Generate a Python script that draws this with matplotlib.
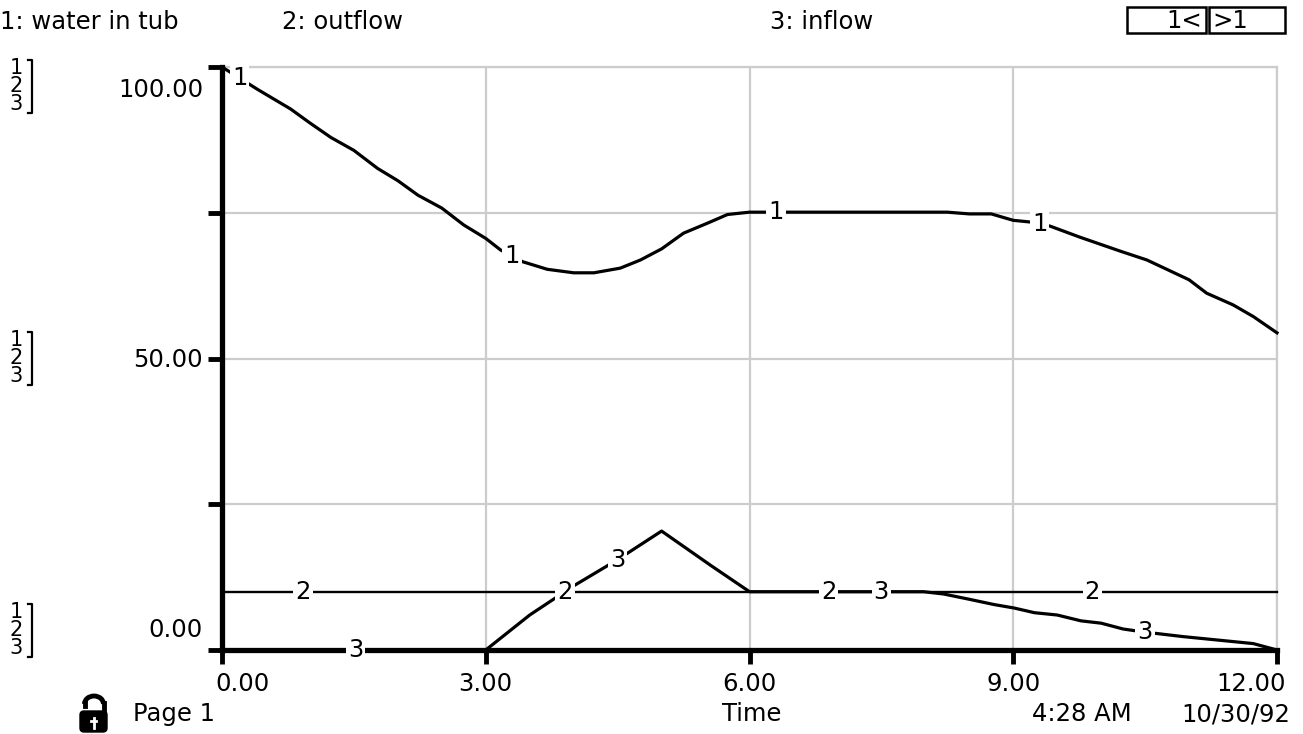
import numpy as np
import matplotlib.pyplot as plt
from matplotlib.patches import Rectangle, FancyBboxPatch, Arc

# ---- data ----
t_water = [0, 0.4, 0.78, 1.0, 1.24, 1.5, 1.77, 2.0, 2.23, 2.5, 2.75, 3.0, 3.17,
           3.42, 3.7, 4.0, 4.23, 4.53, 4.76, 5.0, 5.25, 5.52, 5.75, 6.0, 8.25,
           8.5, 8.75, 9.0, 9.2, 9.42, 9.76, 10.22, 10.52, 11.0, 11.2, 11.5,
           11.73, 12.0]
water = [100, 96.2, 92.8, 90.4, 87.9, 85.7, 82.6, 80.5, 78.0, 75.8, 72.9, 70.6,
         68.6, 66.6, 65.3, 64.7, 64.7, 65.5, 66.9, 68.8, 71.5, 73.2, 74.7, 75.1,
         75.1, 74.8, 74.8, 73.7, 73.4, 72.7, 70.8, 68.4, 66.9, 63.5, 61.2, 59.2,
         57.2, 54.4]

t_outflow = [0, 12]
outflow = [10, 10]

t_inflow = [0, 3, 3.5, 4.0, 4.5, 5.0, 5.56, 6.0, 7.98, 8.21, 8.5, 8.78, 9.01,
            9.24, 9.5, 9.77, 10.0, 10.25, 10.48, 10.93, 11.73, 12.0]
inflow = [0, 0, 6, 11, 15.5, 20.4, 14.5, 10, 10, 9.6, 8.7, 7.8, 7.2, 6.4, 6.0,
          5.0, 4.6, 3.6, 3.1, 2.3, 1.1, 0]

x_ticks = [0, 3, 6, 9, 12]
x_ticklabels = ['0.00', '3.00', '6.00', '9.00', '12.00']
y_ticks = [0, 25, 50, 75, 100]
legend_names = ['1: water in tub', '2: outflow', '3: inflow']

W, H = 1303, 734
FS = 17.5
fig = plt.figure(figsize=(W / 100, H / 100), dpi=100)
fig.patch.set_facecolor('white')

L, R, T, B = 222, 1277, 67, 650
ax = fig.add_axes([L / W, (H - B) / H, (R - L) / W, (B - T) / H])
ax.set_xlim(0, 12)
ax.set_ylim(0, 100)
ax.set_xticks(x_ticks)
ax.set_yticks(y_ticks)
ax.set_xticklabels([])
ax.set_yticklabels([])
ax.grid(True, color='#cccccc', lw=1.6)
ax.set_axisbelow(True)
for s in ['top', 'right']:
    ax.spines[s].set_visible(False)
for s in ['left', 'bottom']:
    ax.spines[s].set_linewidth(3.8)
    ax.spines[s].set_zorder(4)
ax.tick_params(direction='out', length=10, width=3.5, color='black')
# top and right grid edges
ax.axhline(100, color='#cccccc', lw=1.6, zorder=0.5, clip_on=False)
ax.axvline(12, color='#cccccc', lw=1.6, zorder=0.5, clip_on=False)

ax.plot(t_water, water, color='black', lw=2.3, clip_on=False, zorder=3)
ax.plot(t_outflow, outflow, color='black', lw=1.7, clip_on=False, zorder=3)
ax.plot(t_inflow, inflow, color='black', lw=2.3, clip_on=False, zorder=3)

# series number labels placed along the lines
series = [('1', t_water, water, [0.2, 3.3, 6.3, 9.3]),
          ('2', t_outflow, outflow, [0.92, 3.9, 6.9, 9.9]),
          ('3', t_inflow, inflow, [1.52, 4.5, 7.5, 10.5])]
for lab, tx, vy, xs in series:
    for xp in xs:
        ax.text(xp, np.interp(xp, tx, vy), lab, fontsize=FS, ha='center',
                va='center', zorder=5, clip_on=False,
                bbox=dict(boxstyle='square,pad=0.08', fc='white', ec='none'))

# ---- overlay in pixel coordinates for the surrounding text ----
ov = fig.add_axes([0, 0, 1, 1], facecolor='none')
ov.set_xlim(0, W)
ov.set_ylim(H, 0)
ov.axis('off')

for xpos, name in zip([0, 282, 770], legend_names):
    ov.text(xpos, 22, name, fontsize=FS, ha='left', va='center')

ov.add_patch(Rectangle((1127, 7), 79, 26, fill=False, lw=1.8, ec='black'))
ov.add_patch(Rectangle((1209, 7), 76, 26, fill=False, lw=1.8, ec='black'))
ov.text(1202, 21, '1<', fontsize=FS, ha='right', va='center')
ov.text(1212, 21, '>1', fontsize=FS, ha='left', va='center')

# y tick labels
ov.text(203, 90, '100.00', fontsize=FS, ha='right', va='center')
ov.text(203, 360, '50.00', fontsize=FS, ha='right', va='center')
ov.text(203, 630, '0.00', fontsize=FS, ha='right', va='center')

# scale brackets on the far left
for cy in [86, 358, 630]:
    ov.text(16, cy, '1\n2\n3', fontsize=15, ha='center', va='center',
            linespacing=0.9)
    ov.plot([28, 32, 32, 28], [cy - 26, cy - 26, cy + 27, cy + 27],
            color='black', lw=1.6)

# x tick labels
for xv, lab in zip(x_ticks, x_ticklabels):
    px = L + (R - L) * xv / 12
    ha = 'left' if xv == 0 else ('right' if xv == 12 else 'center')
    if xv == 0:
        px -= 7
    if xv == 12:
        px += 9
    ov.text(px, 684, lab, fontsize=FS, ha=ha, va='center')

# footer
ov.text(133, 714, 'Page 1', fontsize=FS, ha='left', va='center')
ov.text(752, 714, 'Time', fontsize=FS, ha='center', va='center')
ov.text(1132, 714, '4:28 AM', fontsize=FS, ha='right', va='center')
ov.text(1290, 714, '10/30/92', fontsize=FS, ha='right', va='center')

# open padlock icon (y axis of the overlay points down)
ov.add_patch(FancyBboxPatch((80, 711), 27, 21, boxstyle='round,pad=0,rounding_size=4',
                            fc='black', ec='black'))
ov.add_patch(Arc((94, 704), 19, 16, theta1=180, theta2=360, lw=3.5, color='black'))
ov.plot([84.5, 84.5], [703, 706], color='black', lw=3.5)
ov.plot([103.5, 103.5], [703, 712], color='black', lw=3.5)
ov.plot([93.5, 93.5], [718, 728], color='white', lw=2)
ov.plot([91, 96], [721, 721], color='white', lw=2)

fig.savefig('out.png', dpi=100)
